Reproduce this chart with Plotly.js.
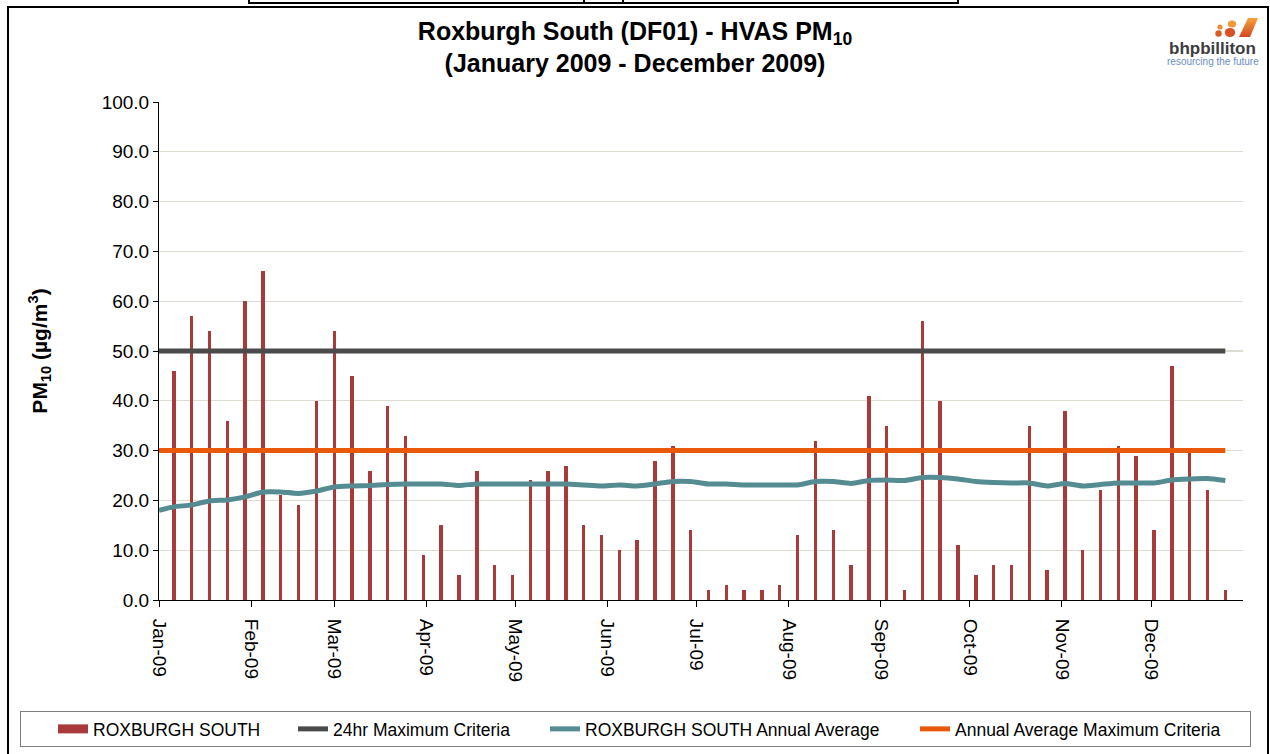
<!DOCTYPE html>
<html>
<head>
<meta charset="utf-8">
<script src="https://cdn.plot.ly/plotly-3.0.1.min.js"></script>
<style>
  html, body { margin: 0; padding: 0; background: #ffffff; }
  #wrap { position: relative; width: 1270px; height: 754px; overflow: hidden; }
  #chart { position: absolute; left: 0; top: 0; width: 1270px; height: 754px; }
  .deco { position: absolute; pointer-events: none; box-sizing: border-box; }
</style>
</head>
<body>
<div id="wrap">
  <div id="chart"></div>
  <div class="deco" style="left:7px; top:6px; width:1262px; height:800px; border:2px solid #000; border-bottom:none;"></div>
  <div class="deco" style="left:248px; top:-8px; width:711px; height:12px; border:2px solid #000;"></div>
  <div class="deco" style="left:583px; top:0px; width:2px; height:4px; background:#000;"></div>
  <div class="deco" style="left:622px; top:0px; width:2px; height:4px; background:#000;"></div>
  <div class="deco" style="left:20px; top:711px; width:1231px; height:36px; border:1.5px solid #7f7f7f;"></div>
  <svg class="deco" style="left:1210px; top:14px;" width="52" height="28" viewBox="1210 14 52 28">
    <defs>
      <linearGradient id="lg" x1="0" y1="0" x2="0" y2="1">
        <stop offset="0" stop-color="#F5A33E"/>
        <stop offset="1" stop-color="#D2471F"/>
      </linearGradient>
    </defs>
    <circle cx="1220" cy="27" r="2.6" fill="#EE8C38"/>
    <circle cx="1218.5" cy="33.5" r="3.2" fill="#DB5A25"/>
    <ellipse cx="1232" cy="24" rx="4.2" ry="3.6" fill="#F09A3C"/>
    <ellipse cx="1230" cy="32.5" rx="5.2" ry="4.5" fill="#D85026"/>
    <polygon points="1248,18 1258,18 1250,37 1239,37" fill="url(#lg)"/>
  </svg>
</div>
<script>
// ---- data ----
var sampleDates = [
  '2009-01-06','2009-01-12','2009-01-18','2009-01-24','2009-01-30',
  '2009-02-05','2009-02-11','2009-02-17','2009-02-23','2009-03-01',
  '2009-03-07','2009-03-13','2009-03-19','2009-03-25','2009-03-31',
  '2009-04-06','2009-04-12','2009-04-18','2009-04-24','2009-04-30',
  '2009-05-06','2009-05-12','2009-05-18','2009-05-24','2009-05-30',
  '2009-06-05','2009-06-11','2009-06-17','2009-06-23','2009-06-29',
  '2009-07-05','2009-07-11','2009-07-17','2009-07-23','2009-07-29',
  '2009-08-04','2009-08-10','2009-08-16','2009-08-22','2009-08-28',
  '2009-09-03','2009-09-09','2009-09-15','2009-09-21','2009-09-27',
  '2009-10-03','2009-10-09','2009-10-15','2009-10-21','2009-10-27',
  '2009-11-02','2009-11-08','2009-11-14','2009-11-20','2009-11-26',
  '2009-12-02','2009-12-08','2009-12-14','2009-12-20','2009-12-26'
];
var pm10Values = [
  46, 57, 54, 36, 60, 66, 21, 19, 40, 54,
  45, 26, 39, 33, 9, 15, 5, 26, 7, 5,
  24, 26, 27, 15, 13, 10, 12, 28, 31, 14,
  2, 3, 2, 2, 3, 13, 32, 14, 7, 41,
  35, 2, 56, 40, 11, 5, 7, 7, 35, 6,
  38, 10, 22, 31, 29, 14, 47, 29.5, 22, 2
];
var lineStartDate = '2009-01-01';
var annualAverage = [
  18.0,
  18.7, 19.1, 19.9, 20.1, 20.7, 21.7, 21.7, 21.4, 21.9, 22.7,
  22.9, 23.0, 23.2, 23.3, 23.3, 23.3, 23.0, 23.3, 23.3, 23.3,
  23.3, 23.3, 23.3, 23.1, 22.9, 23.1, 22.9, 23.3, 23.8, 23.8,
  23.3, 23.3, 23.1, 23.1, 23.1, 23.1, 23.8, 23.8, 23.4, 24.0,
  24.1, 24.0, 24.6, 24.6, 24.3, 23.8, 23.6, 23.5, 23.5, 22.9,
  23.4, 22.9, 23.2, 23.5, 23.5, 23.5, 24.1, 24.3, 24.4, 24.0
];
var criteria24hr = 50;
var criteriaAnnual = 30;
var seriesNames = ['ROXBURGH SOUTH', '24hr Maximum Criteria',
                   'ROXBURGH SOUTH Annual Average', 'Annual Average Maximum Criteria'];
var monthTickFormat = '%b-%y';

// ---- build traces ----
var lineDates = [lineStartDate].concat(sampleDates);
function constantSeries(v) { return lineDates.map(function () { return v; }); }

var FONT = 'Liberation Sans, Arial, sans-serif';
var DAY = 86400000;
var BAR_COLOR = '#A83A3A';

var traces = [
  {
    type: 'bar', name: seriesNames[0],
    x: sampleDates, y: pm10Values,
    width: 1.15 * DAY,
    marker: { color: BAR_COLOR, line: { width: 0 } },
    showlegend: false
  },
  { // legend swatch for the bar series (wide block like the original key)
    type: 'scatter', mode: 'lines', name: seriesNames[0],
    x: [null], y: [null],
    line: { color: BAR_COLOR, width: 9 },
    legend: 'legend'
  },
  {
    type: 'scatter', mode: 'lines', name: seriesNames[1],
    x: lineDates, y: constantSeries(criteria24hr),
    line: { color: '#4B4B4B', width: 5 },
    legend: 'legend2'
  },
  {
    type: 'scatter', mode: 'lines', name: seriesNames[2],
    x: lineDates, y: annualAverage,
    line: { color: '#558C91', width: 5, shape: 'spline', smoothing: 0.6 },
    legend: 'legend3'
  },
  {
    type: 'scatter', mode: 'lines', name: seriesNames[3],
    x: lineDates, y: constantSeries(criteriaAnnual),
    line: { color: '#E8590C', width: 5 },
    legend: 'legend4'
  }
];

var L = 159, R = 1243, T = 102, B = 600;
function px(xp) { return (xp - L) / (R - L); }
function py(yp) { return (B - yp) / (B - T); }

function legendAt(textStart) {
  return {
    orientation: 'h',
    xref: 'container', yref: 'container',
    x: (textStart - 40) / 1270, xanchor: 'left',
    y: (754 - 729) / 754, yanchor: 'middle',
    font: { family: FONT, size: 17.5, color: '#000000' },
    bgcolor: 'rgba(0,0,0,0)', borderwidth: 0
  };
}

var layout = {
  width: 1270, height: 754,
  margin: { l: L, r: 1270 - R, t: T, b: 754 - B },
  paper_bgcolor: '#ffffff', plot_bgcolor: '#ffffff',
  font: { family: FONT, color: '#000000', size: 17 },
  showlegend: true,
  bargap: 0,
  title: {
    text: '<b>Roxburgh South (DF01) - HVAS PM<sub>10</sub></b><br><b>(January 2009 - December 2009)</b>',
    font: { family: FONT, size: 25, color: '#000000' },
    xref: 'container', x: 0.5, xanchor: 'center',
    yref: 'container', y: 0.947, yanchor: 'top'
  },
  xaxis: {
    type: 'date',
    range: ['2009-01-01', '2009-12-31 23:00'],
    tick0: '2009-01-01', dtick: 'M1',
    tickformat: monthTickFormat,
    tickangle: 90,
    ticks: 'outside', ticklen: 6, tickcolor: '#000000', tickwidth: 1,
    ticklabelstandoff: 8,
    showline: true, linecolor: '#000000', linewidth: 1,
    showgrid: false, zeroline: false,
    tickfont: { family: FONT, size: 19, color: '#000000' },
    automargin: false
  },
  yaxis: {
    range: [0, 100], dtick: 10, tick0: 0,
    tickformat: '.1f',
    ticks: 'outside', ticklen: 5, tickcolor: '#000000', tickwidth: 1,
    showline: true, linecolor: '#000000', linewidth: 1,
    showgrid: true, gridcolor: '#DCDCD3', gridwidth: 1.3,
    zeroline: false,
    tickfont: { family: FONT, size: 19, color: '#000000' },
    title: {
      text: '<b>PM<sub>10</sub> (µg/m<sup>3</sup>)</b>',
      font: { family: FONT, size: 21, color: '#000000' },
      standoff: 48
    },
    automargin: false
  },
  legend: legendAt(93),
  legend2: legendAt(333),
  legend3: legendAt(585),
  legend4: legendAt(955),
  annotations: [
    { text: '<b>bhpbilliton</b>', xref: 'paper', yref: 'paper',
      x: px(1212.5), y: py(48.5), xanchor: 'center', yanchor: 'middle',
      showarrow: false, font: { family: FONT, size: 17, color: '#3C3C3C' } },
    { text: 'resourcing the future', xref: 'paper', yref: 'paper',
      x: px(1212.5), y: py(61), xanchor: 'center', yanchor: 'middle',
      showarrow: false, font: { family: FONT, size: 10, color: '#6C8EBF' } }
  ]
};

Plotly.newPlot('chart', traces, layout, { displayModeBar: false, staticPlot: true });
</script>
</body>
</html>
